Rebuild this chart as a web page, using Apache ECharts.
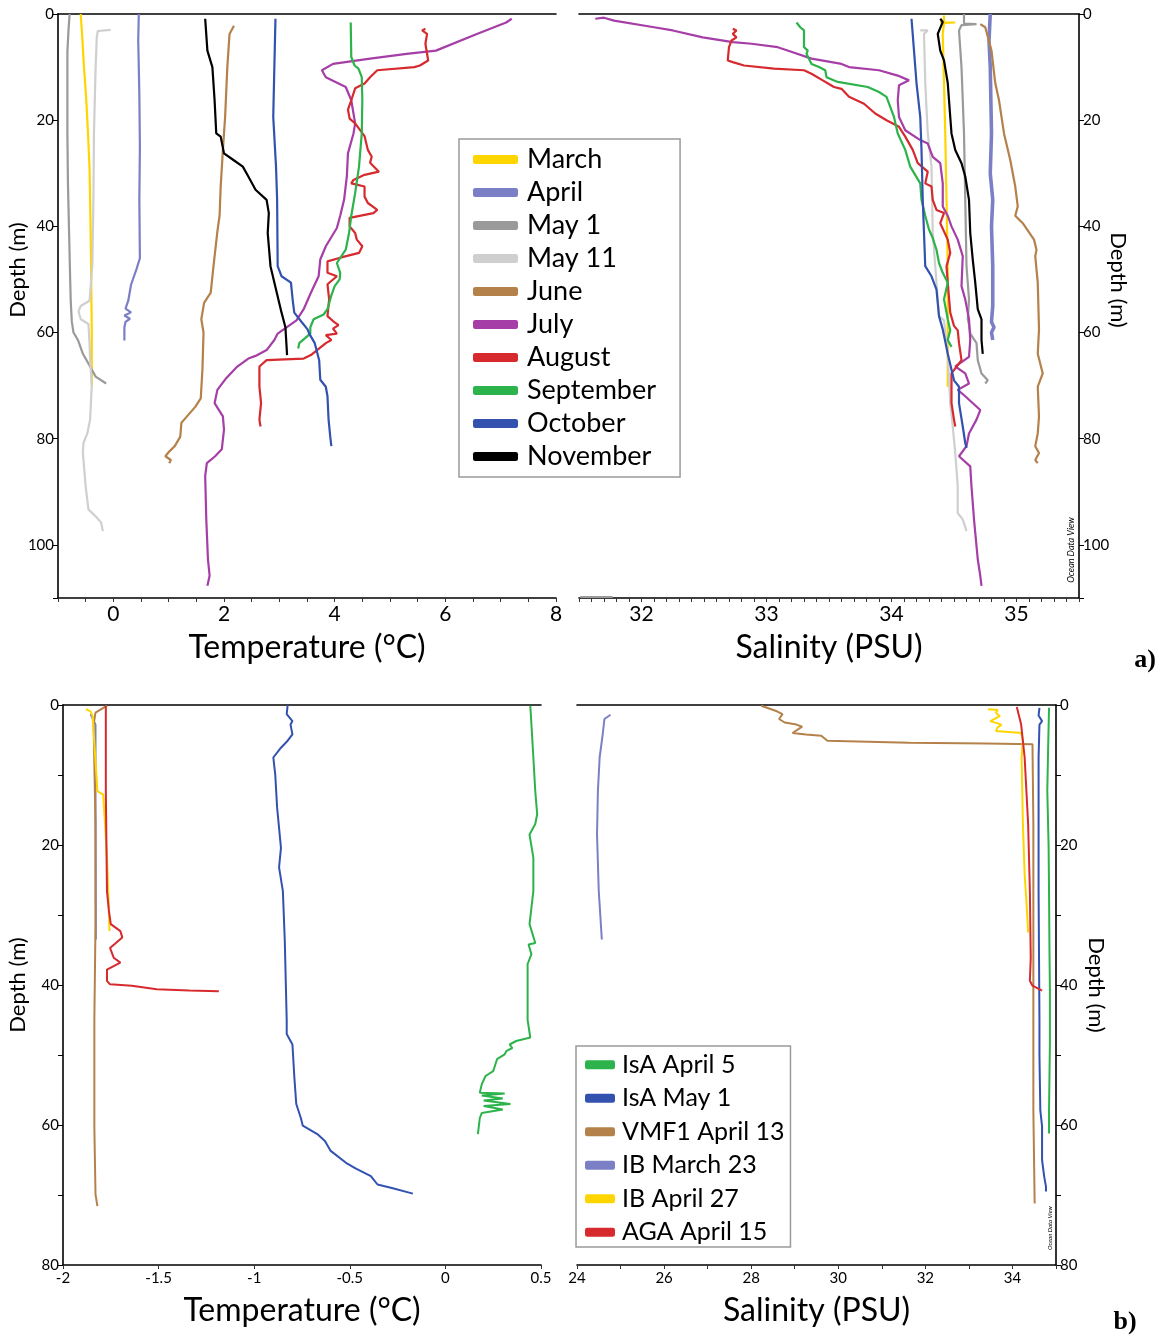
<!DOCTYPE html>
<html><head><meta charset="utf-8">
<script src="https://cdn.jsdelivr.net/npm/echarts/dist/echarts.min.js"></script>
<style>html,body{margin:0;padding:0;background:#fff}#c{width:1165px;height:1338px}</style>
</head><body><div id="c"></div>
<script>
// ---------- Panel a: temperature profiles [temp °C, depth m] ----------
const tMarch = [[-0.59,0],[-0.57,3],[-0.53,10],[-0.49,16],[-0.46,22],[-0.43,29],[-0.42,35],[-0.41,41],[-0.40,50],[-0.39,59],[-0.39,65],[-0.39,70]];
const tApril = [[0.46,0],[0.45,5],[0.47,15],[0.48,25],[0.47,35],[0.48,46],[0.42,48],[0.32,51],[0.27,54],[0.22,55.5],[0.32,56.2],[0.2,56.8],[0.3,57.4],[0.22,58],[0.2,59],[0.2,61.5]];
const tMay1 = [[-0.79,0],[-0.81,3],[-0.83,7],[-0.83,15],[-0.83,23],[-0.82,32],[-0.80,41],[-0.78,50],[-0.77,54],[-0.75,58],[-0.72,60],[-0.64,61.4],[-0.55,64],[-0.42,66.4],[-0.32,68.3],[-0.13,69.6]];
const tMay11 = [[-0.05,3.0],[-0.28,3.2],[-0.30,4.4],[-0.32,10],[-0.35,22.5],[-0.36,35],[-0.38,47.5],[-0.43,54],[-0.59,55],[-0.63,56],[-0.59,57.5],[-0.45,58.4],[-0.43,62],[-0.42,65],[-0.39,70],[-0.42,76.4],[-0.47,79],[-0.54,80.8],[-0.55,82.7],[-0.50,89],[-0.45,93.3],[-0.32,94.6],[-0.22,95.8],[-0.19,97.4]];
const tJune = [[2.18,2.2],[2.10,3.75],[2.06,10],[2.02,19.4],[1.98,25.6],[1.94,32.5],[1.92,38],[1.88,41],[1.81,47.5],[1.76,52.5],[1.64,54.4],[1.59,57.5],[1.63,60],[1.61,67],[1.58,72.4],[1.48,74],[1.28,76.4],[1.23,77],[1.21,79.6],[1.11,81.4],[1.01,82.4],[0.94,83.3],[1.04,84],[1.01,84.6]];
const tJuly = [[7.2,0.9],[7.1,1.6],[6.57,3.75],[5.83,6.9],[5.3,7.5],[4.64,8.4],[3.97,9.4],[3.77,10.6],[3.84,11.9],[4.2,13.75],[4.3,16.25],[4.37,20.6],[4.34,22.5],[4.24,26.25],[4.22,30.6],[4.17,35],[4.1,38],[4.04,40.3],[3.84,43.75],[3.74,46.25],[3.71,49.4],[3.57,52.5],[3.44,55.6],[3.31,57.7],[2.97,60.2],[2.91,61.4],[2.77,63.3],[2.57,64.4],[2.44,64.9],[2.24,66.4],[2.04,68.6],[1.88,70.8],[1.83,73.3],[1.98,75.8],[2.0,78.3],[1.96,82],[1.84,83.3],[1.69,84.6],[1.66,87],[1.68,95.2],[1.71,102.7],[1.74,105.8],[1.70,107.7]];
const tAugust = [[5.64,2.8],[5.58,3.1],[5.67,3.75],[5.64,5.6],[5.69,8.75],[5.54,9.7],[5.44,10],[4.77,10.6],[4.64,11.9],[4.54,13.1],[4.37,14],[4.3,16.25],[4.24,18],[4.27,19.7],[4.37,20.6],[4.54,23],[4.6,25.6],[4.67,26.9],[4.64,28],[4.8,29.7],[4.54,30.3],[4.34,31.25],[4.3,31.9],[4.54,32.5],[4.54,34.4],[4.6,35.6],[4.77,36.9],[4.7,37.5],[4.27,38.4],[4.27,40],[4.37,41.25],[4.4,42.5],[4.5,43.75],[4.44,45],[4.1,45.9],[3.87,46.6],[3.87,48.75],[4.04,49.4],[3.87,50.9],[3.9,53.75],[3.87,56.9],[4.0,58.1],[4.07,58.6],[3.97,59.25],[4.04,60.2],[3.84,60.5],[3.94,61.4],[3.84,62],[3.57,64.25],[3.44,64.9],[2.77,65.2],[2.64,66.4],[2.64,70.2],[2.67,73.3],[2.64,76.4],[2.66,77.7]];
const tSeptember = [[4.29,1.6],[4.30,8.1],[4.36,9.7],[4.43,10.3],[4.49,11.9],[4.5,16.25],[4.49,22.5],[4.44,28.75],[4.37,33.75],[4.3,38],[4.26,41.25],[4.2,44.4],[4.04,46.9],[4.1,48.75],[4.09,50],[4.0,51.25],[3.94,53],[3.87,55.6],[3.8,56.6],[3.62,57.5],[3.56,59],[3.56,60.2],[3.36,62],[3.34,63]];
const tOctober = [[2.93,0.9],[2.91,10],[2.89,19.4],[2.94,28.75],[2.96,35],[2.97,47.5],[3.04,49.4],[3.21,50.6],[3.24,53.75],[3.27,56.25],[3.41,58.1],[3.51,59.4],[3.54,60.2],[3.64,62],[3.72,65.2],[3.74,68.9],[3.84,70.2],[3.87,72],[3.89,76.4],[3.92,79.6],[3.94,81.4]];
const tNovember = [[1.66,0.9],[1.70,6.9],[1.79,10],[1.83,16.25],[1.86,22.5],[1.94,23.1],[2.0,26.25],[2.17,27.5],[2.34,28.75],[2.44,30.6],[2.57,33.1],[2.77,35],[2.81,37.5],[2.79,41.25],[2.84,47.5],[2.94,51.9],[3.04,56.25],[3.11,59],[3.12,60.8],[3.14,64.25]];

// ---------- Panel a: salinity profiles [PSU, depth m] ----------
const sMarch = [[34.42,0.3],[34.42,1.3],[34.39,1.6],[34.51,1.6],[34.42,1.7],[34.41,3.75],[34.42,13],[34.43,22.5],[34.44,35],[34.45,47.5],[34.45,59.4],[34.45,64],[34.45,70.2]];
const sApril = [[34.79,0],[34.78,5],[34.79,10],[34.80,22.5],[34.79,30],[34.81,35],[34.80,40],[34.81,47.5],[34.81,55],[34.80,58],[34.82,59],[34.80,60],[34.81,61.4]];
const sMay1 = [[34.58,0],[34.58,1.8],[34.68,1.9],[34.56,2.1],[34.54,3.1],[34.56,10],[34.58,22.5],[34.59,35],[34.60,47.5],[34.62,53.75],[34.61,57.5],[34.62,58.5],[34.63,60.2],[34.68,62],[34.69,65.2],[34.72,67.7],[34.77,69],[34.75,69.6]];
const sMay11 = [[34.23,3.1],[34.29,3.1],[34.26,3.75],[34.27,13],[34.29,22.5],[34.32,28.75],[34.33,41.25],[34.36,50.6],[34.38,56.9],[34.42,57.7],[34.45,64],[34.47,73.3],[34.49,77.7],[34.51,82.7],[34.53,89],[34.53,94],[34.57,95.2],[34.60,97.4]];
const sJune = [[34.71,1.9],[34.75,2.5],[34.80,6.9],[34.83,13],[34.86,16.25],[34.90,22.5],[34.95,27.5],[34.99,32.5],[35.01,36.25],[34.99,38],[35.05,39.4],[35.14,42.5],[35.16,44.4],[35.15,45.6],[35.17,50.6],[35.18,59.4],[35.17,64],[35.21,67.7],[35.17,70.2],[35.18,75.8],[35.17,79],[35.15,81.4],[35.18,82.7],[35.15,84],[35.17,84.6]];
const sJuly = [[31.63,0.9],[31.70,0.7],[31.78,1.25],[32.10,2.5],[32.25,3.1],[32.49,4.4],[32.73,5.3],[32.88,5.6],[33.09,6.25],[33.21,7.2],[33.36,8.4],[33.60,9.4],[33.66,10],[33.90,10.6],[34.05,11.6],[34.14,12.5],[34.06,13.4],[34.05,16.25],[34.06,19.4],[34.11,21.9],[34.23,23.75],[34.29,24.4],[34.33,26.9],[34.39,28.1],[34.41,31.9],[34.41,36.25],[34.45,38],[34.48,40],[34.53,42.5],[34.57,45.6],[34.56,51.25],[34.59,53.75],[34.62,57.5],[34.63,61.4],[34.62,64.6],[34.51,66.4],[34.59,67.7],[34.62,69.6],[34.53,70.8],[34.59,72],[34.71,74.6],[34.68,76.4],[34.62,79],[34.60,81.4],[34.54,83.3],[34.63,85.2],[34.64,89],[34.66,95.2],[34.69,102.7],[34.71,105.8],[34.72,107.7]];
const sAugust = [[32.73,2.8],[32.76,3.1],[32.73,3.75],[32.76,4.4],[32.72,5],[32.70,6.25],[32.69,8.75],[32.73,9.06],[32.82,9.7],[33.06,10.3],[33.30,10.6],[33.36,11.25],[33.45,12.5],[33.54,13.75],[33.60,14.1],[33.66,15.6],[33.78,16.9],[33.87,18.75],[33.96,20],[34.06,21.25],[34.11,23.1],[34.17,25.6],[34.21,28.1],[34.29,29.7],[34.27,31.9],[34.32,32.5],[34.33,35],[34.36,36.9],[34.42,37.5],[34.39,39.4],[34.45,42.5],[34.47,45],[34.44,47.5],[34.45,50.6],[34.47,56.25],[34.50,58.75],[34.53,59.6],[34.54,62],[34.56,65.2],[34.48,67.7],[34.48,73.3],[34.50,76.4],[34.51,77.7]];
const sSeptember = [[33.24,1.6],[33.27,2.5],[33.30,3.1],[33.30,6.25],[33.33,6.9],[33.32,7.5],[33.36,9.4],[33.42,10],[33.47,10.6],[33.48,11.9],[33.57,12.8],[33.81,13.75],[33.90,14.7],[33.96,15.6],[33.99,17.5],[34.02,19.4],[34.05,22.5],[34.11,25.6],[34.15,28.75],[34.23,31.9],[34.24,35],[34.27,38],[34.30,40.6],[34.33,42.2],[34.36,44.4],[34.38,46.9],[34.41,48.75],[34.45,50.6],[34.42,53.75],[34.45,57.5],[34.47,59.6],[34.45,61.4],[34.48,62.7]];
const sOctober = [[34.16,0.9],[34.18,6.9],[34.20,13],[34.23,19.4],[34.24,25.6],[34.25,35],[34.26,41.25],[34.27,47.5],[34.32,49.4],[34.36,51.9],[34.38,56.9],[34.41,59.4],[34.45,64],[34.50,69],[34.54,70.2],[34.54,73.3],[34.57,77.7],[34.59,80.8],[34.60,81.75]];
const sNovember = [[34.39,0.9],[34.41,1.5],[34.37,3.75],[34.39,6.9],[34.42,8.75],[34.45,13],[34.47,19.4],[34.48,22.5],[34.51,25.6],[34.56,28.1],[34.59,30.6],[34.62,35],[34.63,41.25],[34.65,46.25],[34.67,50.6],[34.69,55.6],[34.72,57.5],[34.72,61.4],[34.73,64]];
const sStray = [[31.51,109.8],[31.77,109.8]];

// ---------- Panel b: temperature [temp °C, depth m] ----------
const bTIsAApr5 = [[0.444,0.1],[0.45,2.8],[0.46,7.5],[0.47,12.3],[0.48,15.6],[0.47,17],[0.44,18.5],[0.46,21.8],[0.46,26.6],[0.44,31.3],[0.47,34],[0.435,34.2],[0.45,35.6],[0.43,37],[0.43,45],[0.444,47.5],[0.37,48],[0.336,48.5],[0.35,49],[0.32,49.4],[0.31,49.9],[0.27,50.6],[0.25,52.3],[0.21,53],[0.19,54.2],[0.18,55.4],[0.31,55.5],[0.19,55.8],[0.30,56.2],[0.20,56.5],[0.34,57],[0.20,57.3],[0.30,57.8],[0.19,58.3],[0.18,59],[0.17,61.3]];
const bTIsAMay1 = [[-0.825,0],[-0.83,1.3],[-0.80,2.3],[-0.81,2.8],[-0.80,4.2],[-0.825,5.1],[-0.86,6.1],[-0.90,7.5],[-0.89,9.9],[-0.88,14.7],[-0.86,20.4],[-0.87,23.2],[-0.85,26.6],[-0.84,33.7],[-0.83,45],[-0.83,47],[-0.80,48.5],[-0.79,53.2],[-0.78,57],[-0.756,59],[-0.746,60.1],[-0.67,61.3],[-0.63,62.3],[-0.60,63.7],[-0.52,65.4],[-0.47,66.2],[-0.39,67.3],[-0.355,68.5],[-0.28,69],[-0.17,69.8]];
const bTVMF1 = [[-1.77,0.1],[-1.83,1.1],[-1.84,2.8],[-1.83,17],[-1.83,31.3],[-1.836,45],[-1.836,60.4],[-1.83,69.9],[-1.82,71.6]];
const bTIBMar23 = [[-1.856,1.3],[-1.83,2.8],[-1.83,15],[-1.828,33.5]];
const bTIBApr27 = [[-1.88,0.6],[-1.856,0.9],[-1.845,1.6],[-1.82,12.3],[-1.79,12.8],[-1.78,17],[-1.77,21.8],[-1.76,29],[-1.757,32.3]];
const bTAGA = [[-1.776,0.1],[-1.776,12.3],[-1.77,26.6],[-1.76,29.4],[-1.75,31.3],[-1.70,32.3],[-1.69,33.2],[-1.754,34.7],[-1.735,36.1],[-1.70,36.8],[-1.77,37.8],[-1.77,39.4],[-1.754,39.9],[-1.64,40.1],[-1.51,40.6],[-1.34,40.8],[-1.185,40.9]];

// ---------- Panel b: salinity [PSU, depth m] ----------
const bSIsAApr5 = [[34.84,0.4],[34.82,6],[34.80,12.3],[34.83,20],[34.84,26.6],[34.85,35],[34.86,40.9],[34.86,48.3],[34.84,57.9],[34.84,61.2]];
const bSIsAMay1 = [[34.62,0.4],[34.60,1.5],[34.68,2.3],[34.62,2.8],[34.60,7.5],[34.60,26.6],[34.62,45],[34.62,50],[34.64,57.9],[34.68,60.2],[34.68,65],[34.73,67.4],[34.77,68.8],[34.77,69.5]];
const bSVMF1 = [[28.23,0.1],[28.59,0.9],[28.72,1.3],[28.64,2],[28.77,2.5],[29.04,2.8],[29.17,3.1],[28.95,4],[29.26,4.2],[29.61,4.4],[29.75,5.1],[31.62,5.4],[33.40,5.5],[34.46,5.6],[34.48,17],[34.48,45],[34.48,57.9],[34.51,71.2]];
const bSIBMar23 = [[24.77,1.4],[24.63,2],[24.59,4.2],[24.52,7.5],[24.48,12.3],[24.46,18.5],[24.50,26.6],[24.57,33.5]];
const bSIBApr27 = [[33.44,0.6],[33.66,0.7],[33.62,1.1],[33.71,1.6],[33.49,2.3],[33.75,2.8],[33.66,3.2],[33.62,3.7],[34.20,4],[34.24,5.1],[34.21,7.5],[34.24,17],[34.28,24.2],[34.33,29],[34.36,32.5]];
const bSAGA = [[34.10,0.3],[34.20,2.8],[34.28,7.5],[34.36,17],[34.40,26.6],[34.42,36.1],[34.40,39.4],[34.46,40.1],[34.68,40.8]];

// ---------- names, colours, ticks ----------
const monthNames = ['March','April','May 1','May 11','June','July','August','September','October','November'];
const monthColors = ['#ffd500','#7b80c6','#9a9a9a','#cfcfcf','#b5814b','#a53ea6','#d62a2e','#2db34b','#3352b0','#000000'];
const stationNames = ['IsA April 5','IsA May 1','VMF1 April 13','IB March 23','IB April 27','AGA April 15'];
const stationColors = ['#2db34b','#3352b0','#b5814b','#7b80c6','#ffd500','#d62a2e'];
const depthTicksA = [0,20,40,60,80,100];
const depthTicksB = [0,20,40,60,80];

const tempA = [tMarch,tApril,tMay1,tMay11,tJune,tJuly,tAugust,tSeptember,tOctober,tNovember];
const salA  = [sMarch,sApril,sMay1,sMay11,sJune,sJuly,sAugust,sSeptember,sOctober,sNovember];
const tempB = [bTIsAApr5,bTIsAMay1,bTVMF1,bTIBMar23,bTIBApr27,bTAGA];
const salB  = [bSIsAApr5,bSIsAMay1,bSVMF1,bSIBMar23,bSIBApr27,bSAGA];

const FONT = 'Lato, "Open Sans", sans-serif';
function line(name, data, color, xi, yi, w, z) {
  return {type:'line', name, data, xAxisIndex:xi, yAxisIndex:yi, showSymbol:false, symbol:'none',
    color, lineStyle:{color, width:w}, z: z||2, animation:false, silent:true};
}
const series = [];
monthNames.forEach((n,i)=>{ series.push(line(n, tempA[i], monthColors[i], 0, 0, 2.2)); });
monthNames.forEach((n,i)=>{ series.push(line(n, salA[i], monthColors[i], 1, 1, n==='April'?3.6:2.2)); });
series.push(line('May 1', sStray, '#9a9a9a', 1, 1, 2));
const orderB = [3,2,0,1,4,5];
orderB.forEach(i=>{ series.push(line(stationNames[i], tempB[i], stationColors[i], 2, 2, 2)); });
orderB.forEach(i=>{ series.push(line(stationNames[i], salB[i], stationColors[i], 3, 3, 2)); });

const axLine = {show:true, onZero:false, lineStyle:{color:'#000', width:1.6}};
function xBottom(g, min, max, interval, fmt, fs, title, gap){
  return {type:'value', gridIndex:g, position:'bottom', min, max, interval,
    axisLine:axLine, axisTick:{show:true, length:4, lineStyle:{color:'#333'}},
    axisLabel:{color:'#000', fontSize:fs, fontFamily:FONT, margin:6, formatter:fmt, showMinLabel:true, showMaxLabel:true},
    splitLine:{show:false}, name:title, nameLocation:'middle', nameGap:gap,
    nameTextStyle:{color:'#000', fontSize:32, fontFamily:FONT}};
}
function xTop(g, min, max){
  return {type:'value', gridIndex:g, position:'top', min, max,
    axisLine:axLine, axisTick:{show:false}, axisLabel:{show:false}, splitLine:{show:false}};
}
function yAx(g, pos, max, interval, ticks){
  return {type:'value', gridIndex:g, position:pos, inverse:true, min:0, max, interval,
    axisLine:axLine, axisTick:{show:true, length:5, lineStyle:{color:'#000'}},
    axisLabel:{color:'#000', fontSize:15, fontFamily:FONT, margin:4,
      formatter:v=> ticks.indexOf(v)>=0 ? String(v) : ''},
    splitLine:{show:false}};
}
const isEven = v => (Math.abs(v/2 - Math.round(v/2)) < 1e-6) ? String(Math.round(v)) : '';
const isInt = v => (Math.abs(v - Math.round(v)) < 1e-6) ? String(Math.round(v)) : '';

function txt(x, y, text, size, rot){
  return {type:'text', x, y, rotation:rot||0, silent:true,
    style:{text, fill:'#000', font: size+'px '+FONT, textAlign:'center', textVerticalAlign:'middle'}};
}

const option = {
  backgroundColor:'#fff',
  animation:false,
  grid:[
    {left:58, top:14, width:498, height:584},
    {left:579, top:14, width:500, height:584},
    {left:63, top:705, width:478, height:560},
    {left:577, top:705, width:479, height:560}
  ],
  xAxis:[
    xBottom(0, -1, 8, 0.5, isEven, 21, 'Temperature (°C)', 34),
    xBottom(1, 31.5, 35.5, 0.1, isInt, 21, 'Salinity (PSU)', 34),
    xBottom(2, -2, 0.5, 0.5, null, 15, 'Temperature (°C)', 30),
    xBottom(3, 24, 35, 1, isEven, 15, 'Salinity (PSU)', 30),
    xTop(0, -1, 8), xTop(1, 31.5, 35.5), xTop(2, -2, 0.5), xTop(3, 24, 35)
  ],
  yAxis:[
    yAx(0, 'left', 110, 20, depthTicksA),
    yAx(1, 'right', 110, 20, depthTicksA),
    yAx(2, 'left', 80, 10, depthTicksB),
    yAx(3, 'right', 80, 10, depthTicksB)
  ],
  legend:[
    {data:monthNames, orient:'vertical', left:459, top:139, icon:'roundRect', itemWidth:45, itemHeight:9,
     itemGap:6, padding:[7,24,7,14], borderColor:'#9a9a9a', borderWidth:1.5, backgroundColor:'#fff',
     textStyle:{color:'#000', fontSize:27, lineHeight:25, fontFamily:FONT, padding:[0,0,0,4]}, selectedMode:false},
    {data:stationNames, orient:'vertical', left:576, top:1046, icon:'roundRect', itemWidth:30, itemHeight:9,
     itemGap:8, padding:[6,6,2,9], borderColor:'#9a9a9a', borderWidth:1.5, backgroundColor:'#fff',
     textStyle:{color:'#000', fontSize:25, lineHeight:25.5, fontFamily:FONT, padding:[0,0,0,2]}, selectedMode:false}
  ],
  graphic:[
    txt(18, 270, 'Depth (m)', 22, Math.PI/2),
    txt(1118, 280, 'Depth (m)', 22, -Math.PI/2),
    txt(18, 985, 'Depth (m)', 22, Math.PI/2),
    txt(1096, 985, 'Depth (m)', 22, -Math.PI/2),
    {type:'text', x:1071, y:550, rotation:Math.PI/2, silent:true,
     style:{text:'Ocean Data View', fill:'#000', font:'italic 9px '+FONT, textAlign:'center', textVerticalAlign:'middle'}},
    {type:'text', x:1050, y:1228, rotation:Math.PI/2, silent:true,
     style:{text:'Ocean Data View', fill:'#000', font:'italic 6px '+FONT, textAlign:'center', textVerticalAlign:'middle'}},
    {type:'text', x:1145, y:660, silent:true,
     style:{text:'a)', fill:'#000', font:'bold 26px "Liberation Serif", "DejaVu Serif", serif', textAlign:'center', textVerticalAlign:'middle'}},
    {type:'text', x:1125, y:1322, silent:true,
     style:{text:'b)', fill:'#000', font:'bold 26px "Liberation Serif", "DejaVu Serif", serif', textAlign:'center', textVerticalAlign:'middle'}}
  ],
  series
};
const chart = echarts.init(document.getElementById('c'), null, {renderer:'canvas'});
chart.setOption(option);
</script>
</body></html>
